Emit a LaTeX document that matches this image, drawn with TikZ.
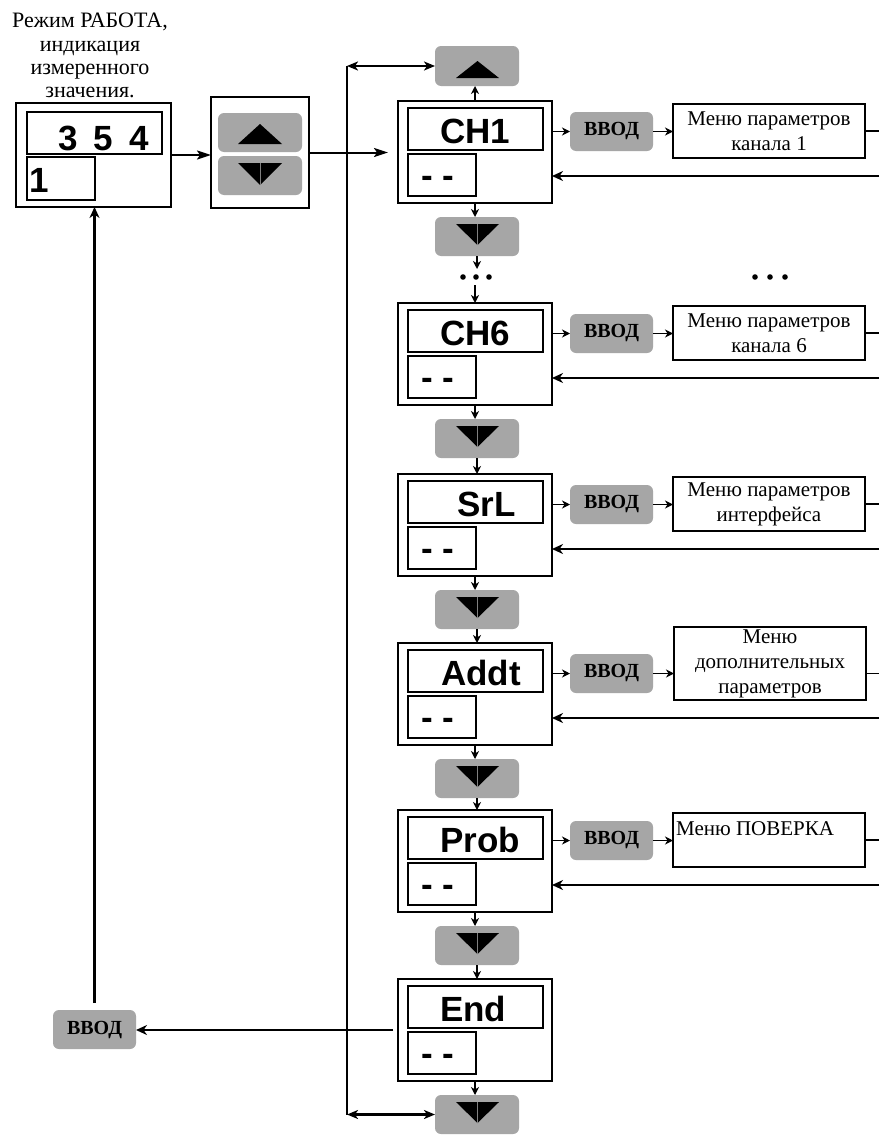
\documentclass[tikz,border=0pt]{standalone}
\usepackage{fontspec}
\setmainfont{Liberation Serif}
\setsansfont{Liberation Sans}
\usetikzlibrary{arrows.meta}
\definecolor{keygray}{RGB}{166,166,166}
\begin{document}
\begin{tikzpicture}[x=1pt,y=-1pt,
  outerbox/.style={draw,line width=1.8pt,inner sep=0pt,outer sep=0pt,anchor=north west},
  innerbox/.style={draw,line width=1.4pt,inner sep=0pt,outer sep=0pt,anchor=north west},
  keybox/.style={fill=keygray,rounded corners=6pt,inner sep=0pt,outer sep=0pt,anchor=north west,minimum width=84pt,minimum height=39pt},
  vvodbox/.style={keybox,minimum width=83pt,font=\fontsize{20}{24}\selectfont\bfseries},
  menubox/.style={draw,line width=1.3pt,inner sep=0pt,outer sep=0pt,anchor=north west,minimum width=192pt,minimum height=54pt,align=center,font=\fontsize{21}{25}\selectfont},
  segtext/.style={inner sep=0pt,anchor=base west,font=\fontsize{35}{40}\selectfont\sffamily\bfseries},
  seam/.style={draw=gray,line width=0.5pt},
  sarr/.style={line width=1.8pt,-{Stealth[length=8pt,width=8pt,inset=2.5pt]}},
  marr/.style={line width=2pt,-{Stealth[length=14pt,width=9pt,inset=3pt]}},
  larr/.style={line width=2.7pt,-{Stealth[length=11pt,width=10pt,inset=3.5pt]}},
  darr/.style={line width=2.3pt,{Stealth[length=11pt,width=9pt,inset=3pt]}-{Stealth[length=11pt,width=9pt,inset=3pt]}},
  thin/.style={line width=1.3pt}
]
\fill[white] (0,0) rectangle (879,1135);
\useasboundingbox (0,0) rectangle (879,1135);

% title
\node[align=center,anchor=north,inner sep=0pt,font=\fontsize{22}{23.3}\selectfont] (title) at (90,13)
  {Режим РАБОТА,\\индикация\\измеренного\\значения.};

% display (work mode)
\node[outerbox,minimum width=155pt,minimum height=104pt] (disp) at (16,103) {};
\node[innerbox,minimum width=135pt,minimum height=42pt] (dtop) at (27,112) {};
\node[innerbox,minimum width=68pt,minimum height=43pt] (dbot) at (27,157) {};
\node[segtext] (val) at (58,150) {\spaceskip=16pt 3 5 4};
\node[segtext] (chn) at (29,192) {1};

% keypad
\node[outerbox,minimum width=98pt,minimum height=111pt] (pad) at (211,97) {};
\node[keybox] (pu) at (218,113) {};
\node[keybox] (pd) at (218,156) {};
\fill (238,144) -- (282,144) -- (260,124) -- cycle;
\fill (238,163) -- (282,163) -- (260,185) -- cycle;
\draw[seam] (260,163) -- (260,185);

% up key on top
\node[keybox,minimum height=40pt] (up) at (435,46) {};
\fill (456,78) -- (499,78) -- (477.5,61) -- cycle;

% rows
\foreach \n/\T/\lab/\lx in {1/101/CH1/440, 6/303/CH6/440, s/474/SrL/457, a/643/Addt/441, p/810/Prob/440, e/979/End/440}{
  \node[outerbox,minimum width=154pt,minimum height=102pt] (ch\n) at (398,\T) {};
  \node[innerbox,minimum width=135pt,minimum height=42pt] (t\n) at (408,{\T+7}) {};
  \node[innerbox,minimum width=68pt,minimum height=42pt] (b\n) at (408,{\T+53}) {};
  \node[segtext] (l\n) at (\lx,{\T+42}) {\lab};
  \node[segtext] (d\n) at (421,{\T+86}) {- -};
  \node[keybox] (k\n) at (435,{\T+116}) {};
  \fill (456,{\T+123}) -- (499,{\T+123}) -- (477.5,{\T+144}) -- cycle;
  \draw[seam] (477.5,{\T+123}) -- (477.5,{\T+144});
  \draw[sarr] (ch\n.south) -- (ch\n.south |- k\n.north);
}
\draw[sarr] (ch1.north) -- (ch1.north |- up.south);

\draw[marr] (disp.east) -- (disp.east -| pad.west);
\draw[marr] (pad.east) -- ([xshift=-10pt]pad.east -| ch1.west);

% dots between CH1 and CH6
\coordinate (dA) at (477,269);
\coordinate (dB) at (477,285);
\draw[sarr] (k1.south) -- (k1.south |- dA);
\draw[sarr] (ch6.north |- dB) -- (ch6.north);
\foreach \x in {463,476,489} \fill (\x,277) circle[radius=2.8pt];
\foreach \x in {755,770,785} \fill (\x,277) circle[radius=2.8pt];

\foreach \a/\b in {6/s, s/a, a/p, p/e}{
  \draw[sarr] (k\a.south) -- (k\a.south |- ch\b.north);
}

% ENTER keys and return lines
\foreach \n/\T in {1/101, 6/303, s/474, a/643, p/810}{
  \node[vvodbox] (v\n) at (570,{\T+11}) {ВВОД};
  \draw[sarr] (v\n.west -| ch\n.east) -- (v\n.west);
  \coordinate (r\n) at (879,{\T+75});
  \draw[larr] (r\n) -- (r\n -| ch\n.east);
}

% menus
\node[menubox] (m1) at (673,104) {Меню параметров\\канала 1};
\node[menubox] (m6) at (673,306) {Меню параметров\\канала 6};
\node[menubox] (ms) at (673,477) {Меню параметров\\интерфейса};
\node[menubox,minimum height=73pt] (ma) at (674,627) {Меню\\дополнительных\\параметров};
\node[menubox] (mp) at (673,813) {};
\node[anchor=west,inner sep=0pt,font=\fontsize{21}{25}\selectfont] (mpt) at (676,829) {Меню ПОВЕРКА};

\foreach \n in {1,6,s,a,p}{
  \draw[sarr] (v\n.east) -- (v\n.east -| m\n.west);
}
\foreach \n in {1,6,s,p}{
  \draw[thin] (m\n.east) -- (m\n.east -| r\n);
}
\draw[thin] (ma.east |- va.east) -- (va.east -| ra);

% left loop
\coordinate (vt) at (347,66);
\coordinate (vb) at (347,1114.5);
\draw[line width=1.5pt] (vt) -- (vb);
\draw[darr] (vt) -- (vt -| up.west);
\draw[darr] (vb) -- (vb -| ke.west);

\node[vvodbox] (vl) at (53,1010) {ВВОД};
\draw[larr] ([xshift=-5pt]che.west) -- (che.west -| vl.east);
\draw[larr,line width=2.9pt] ([yshift=7pt]vl.north) -- (vl.north |- disp.south);
\end{tikzpicture}
\end{document}
